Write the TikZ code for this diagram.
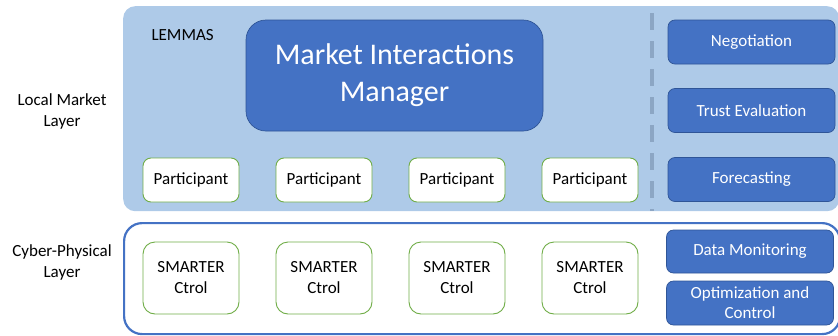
\documentclass[tikz,border=0pt]{standalone}
\usepackage{fontspec}
\setmainfont{Carlito}
\definecolor{lightbg}{RGB}{174,202,232}
\definecolor{darkblue}{RGB}{68,114,196}
\definecolor{darkborder}{RGB}{47,85,151}
\definecolor{dashcol}{RGB}{140,166,196}
\definecolor{greenb}{RGB}{112,173,71}
\begin{document}
\begin{tikzpicture}[x=1pt,y=-1pt,
  txt/.style={font=\fontsize{17}{21}\selectfont},
  partbox/.style={draw=greenb,line width=0.9pt,fill=white,rounded corners=8pt,
    minimum width=96pt,minimum height=44pt,inner sep=0pt,txt},
  ctrlbox/.style={draw=greenb,line width=0.9pt,fill=white,rounded corners=12pt,
    minimum width=96pt,minimum height=72pt,inner sep=0pt,txt,align=center},
  funcbox/.style={draw=darkborder,line width=0.7pt,fill=darkblue,rounded corners=7pt,
    minimum width=167pt,minimum height=44pt,inner sep=0pt,txt,text=white,align=center},
  layerlabel/.style={txt,align=center}]
\useasboundingbox (0,0) rectangle (838,335);
% top layer background
\node[fill=lightbg,rounded corners=12pt,minimum width=716pt,minimum height=205pt,inner sep=0pt,anchor=north west] (lemmas) at (123,6) {};
\node[txt,anchor=west] (lemmaslbl) at (148,35) {LEMMAS};
\node[draw=darkborder,line width=0.7pt,fill=darkblue,rounded corners=20pt,
  minimum width=297pt,minimum height=111pt,inner sep=0pt,text=white,
  font=\fontsize{30}{37}\selectfont] (mim) at (394.5,75.5)
  {\raisebox{-2.5pt}{\begin{tabular}{@{}c@{}}Market Interactions\\Manager\end{tabular}}};
\node[partbox] (p1) at (191,180) {\raisebox{-1.5pt}{Participant}};
\node[partbox] (p2) at (324,180) {\raisebox{-1.5pt}{Participant}};
\node[partbox] (p3) at (457,180) {\raisebox{-1.5pt}{Participant}};
\node[partbox] (p4) at (590,180) {\raisebox{-1.5pt}{Participant}};
% dashed separator
\coordinate (dtop) at (652,13);
\coordinate (dbot) at (652,211);
\draw[dashcol,line width=4pt,dash pattern=on 17pt off 11pt] (dtop) -- (dbot);
\node[funcbox] (neg) at (751.5,42) {\raisebox{-1.5pt}{Negotiation}};
\node[funcbox] (trust) at (751.5,110.5) {Trust Evaluation};
\node[funcbox] (fore) at (751.5,179.5) {\raisebox{-1.5pt}{Forecasting}};
% bottom layer
\node[draw=darkblue,line width=2.2pt,fill=white,rounded corners=18pt,
  minimum width=716pt,minimum height=111pt,inner sep=0pt,anchor=north west] (cps) at (123,222) {};
\node[ctrlbox] (c1) at (191,278) {SMARTER\\Ctrol};
\node[ctrlbox] (c2) at (324,278) {SMARTER\\Ctrol};
\node[ctrlbox] (c3) at (457,278) {SMARTER\\Ctrol};
\node[ctrlbox] (c4) at (590,278) {SMARTER\\Ctrol};
\node[funcbox,minimum height=43pt] (dm) at (750,251.5) {\raisebox{-1.5pt}{Data Monitoring}};
\node[funcbox,minimum height=44pt,font=\fontsize{17}{20}\selectfont] (opt) at (750,303) {Optimization and\\Control};
% layer labels
\node[layerlabel] (lml) at (62,111) {Local Market\\Layer};
\node[layerlabel] (cpl) at (62,262) {Cyber-Physical\\Layer};
\end{tikzpicture}
\end{document}
